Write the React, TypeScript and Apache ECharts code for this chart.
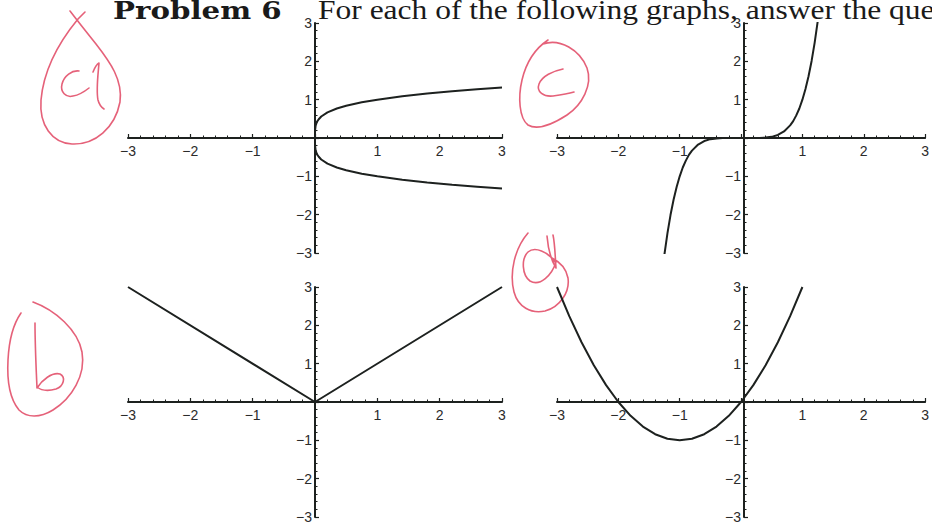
import React, { useEffect, useRef } from "react";
import * as echarts from "echarts";

// Shared axis extent for every panel
const AXIS_MIN = -3;
const AXIS_MAX = 3;
const TICK_STEP = 1;

// (a) y^4 = x : upper and lower branches
const rootX = [0, 0.0005, 0.002, 0.01, 0.03, 0.06, 0.1, 0.2, 0.35, 0.5, 0.75, 1, 1.4, 1.8, 2.2, 2.6, 3];
const rootUpper = [0, 0.15, 0.21, 0.32, 0.42, 0.49, 0.56, 0.67, 0.77, 0.84, 0.93, 1.0, 1.09, 1.16, 1.22, 1.27, 1.32];
const rootLower = [0, -0.15, -0.21, -0.32, -0.42, -0.49, -0.56, -0.67, -0.77, -0.84, -0.93, -1.0, -1.09, -1.16, -1.22, -1.27, -1.32];

// (b) y = |x|
const absX = [-3, 0, 3];
const absY = [3, 0, 3];

// (c) y = x^5
const quintX = [-1.25, -1.2, -1.15, -1.1, -1.05, -1, -0.95, -0.9, -0.85, -0.8, -0.7, -0.6, -0.5, -0.4, -0.3, -0.15, 0,
  0.15, 0.3, 0.4, 0.5, 0.6, 0.7, 0.8, 0.85, 0.9, 0.95, 1, 1.05, 1.1, 1.15, 1.2, 1.25];
const quintY = [-3.05, -2.49, -2.01, -1.61, -1.28, -1, -0.77, -0.59, -0.44, -0.33, -0.17, -0.08, -0.03, -0.01, -0.002, 0, 0,
  0, 0.002, 0.01, 0.03, 0.08, 0.17, 0.33, 0.44, 0.59, 0.77, 1, 1.28, 1.61, 2.01, 2.49, 3.05];

// (d) y = x^2 + 2x
const paraX = [-3, -2.8, -2.6, -2.4, -2.2, -2, -1.8, -1.6, -1.4, -1.2, -1, -0.8, -0.6, -0.4, -0.2, 0, 0.2, 0.4, 0.6, 0.8, 1];
const paraY = [3, 2.24, 1.56, 0.96, 0.44, 0, -0.36, -0.64, -0.84, -0.96, -1, -0.96, -0.84, -0.64, -0.36, 0, 0.44, 0.96, 1.56, 2.24, 3];

const INK = "#1d211f";
const LABEL_INK = "#2b2b2b";
const PEN = "#e2506a";
const LABEL_FONT = "Liberation Sans";
const LABEL_SIZE = 14;

// Panel frame size (px); the axes cross at the centre of each frame
const GRID_W = 374;
const GRID_H = 230;

// Handwritten panel labels (ink strokes)
const PEN_STROKES: Record<string, string> = {
  penA:
    "M 85 12 L 78 19 C 64 36 44 66 41 100 C 39 125 52 143 72 144 C 95 145 115 128 120 102 C 123 80 110 62 96 44 C 88 34 80 24 70 11 " +
    "M 79 71 C 72 70 64 76 62 84 C 60 92 66 98 73 96 C 79 95 84 92 89 88 " +
    "M 93 72 C 95 67 97 64 99 63 C 98 75 96 90 98 100 C 99 104 101 107 104 109",
  penB:
    "M 33 302 C 55 310 78 330 82 352 C 86 375 72 398 53 410 C 40 418 27 418 19 410 C 9 398 7 378 8 360 C 9 340 14 323 21 313 " +
    "M 35 323 C 35 345 36 365 37 388 C 42 380 52 372 60 374 C 66 377 64 386 56 389 C 49 391 42 391 37 387",
  penC:
    "M 543 44 C 560 38 580 50 587 68 C 593 85 582 105 567 115 C 553 124 538 131 528 125 C 519 118 518 97 522 80 C 526 63 533 50 548 40 " +
    "M 563 69 C 553 71 542 76 539 84 C 536 92 544 97 553 96 C 560 95 567 94 574 92",
  penD:
    "M 528 233 C 515 248 509 272 514 292 C 518 307 531 314 545 311 C 560 307 570 292 568 278 C 566 267 558 261 552 258 " +
    "M 555 262 C 548 252 535 246 528 252 C 521 259 522 275 530 281 C 540 287 552 275 556 262 " +
    "M 547 236 C 548 248 551 260 556 268 C 555 255 555 244 553 235",
};

const zip = (xs: number[], ys: number[]) => xs.map((x, i) => [x, ys[i]]);

// Tick text uses a rich-text token so its size is set explicitly
const tickLabel = (v: number) =>
  v === 0 ? "" : "{t|" + (v < 0 ? "\u2212" + Math.abs(v) : String(v)) + "}";

const labelStyle = {
  formatter: tickLabel,
  fontFamily: LABEL_FONT,
  fontSize: LABEL_SIZE,
  color: LABEL_INK,
  showMinLabel: true,
  showMaxLabel: true,
  rich: {
    t: { fontFamily: LABEL_FONT, fontSize: LABEL_SIZE, color: LABEL_INK, lineHeight: LABEL_SIZE },
  },
};

const axisCommon = {
  type: "value",
  min: AXIS_MIN,
  max: AXIS_MAX,
  interval: TICK_STEP,
  axisLine: { show: true, onZero: false, lineStyle: { color: INK, width: 2 } },
  axisTick: { show: true, inside: true, length: 4, lineStyle: { color: INK, width: 1.2 } },
  minorTick: { show: true, splitNumber: 5, length: 2.5, lineStyle: { color: INK, width: 1 } },
  splitLine: { show: false },
};

// The x axis is lifted from the bottom edge to the frame's middle (y = 0)
const makeXAxis = (i: number) => ({
  ...axisCommon,
  gridIndex: i,
  position: "bottom",
  offset: -GRID_H / 2,
  axisLabel: { ...labelStyle, margin: 6 },
});

// The y axis is shifted from the left edge to the frame's middle (x = 0)
const makeYAxis = (i: number) => ({
  ...axisCommon,
  gridIndex: i,
  position: "left",
  offset: -GRID_W / 2,
  axisLabel: { ...labelStyle, margin: 3 },
});

const curve = (i: number, data: number[][]) => ({
  type: "line",
  xAxisIndex: i,
  yAxisIndex: i,
  data,
  showSymbol: false,
  symbol: "none",
  smooth: false,
  clip: true,
  lineStyle: { color: INK, width: 2 },
  silent: true,
});

export default function App() {
  const ref = useRef<HTMLDivElement>(null);

  useEffect(() => {
    if (!ref.current) return;
    Object.keys(PEN_STROKES).forEach((name) => {
      echarts.graphic.registerShape(name, echarts.graphic.extendPath(PEN_STROKES[name], {}));
    });
    const chart = echarts.init(ref.current, undefined, { renderer: "svg" });

    const penStyle = {
      fill: "none",
      stroke: PEN,
      lineWidth: 1.6,
      lineCap: "round",
      lineJoin: "round",
      opacity: 0.9,
    };

    chart.setOption({
      animation: false,
      backgroundColor: "#ffffff",
      textStyle: { fontFamily: LABEL_FONT, fontSize: LABEL_SIZE },
      grid: [
        { left: 128, top: 23, width: GRID_W, height: GRID_H },
        { left: 128, top: 287, width: GRID_W, height: GRID_H },
        { left: 557, top: 23, width: GRID_W, height: GRID_H },
        { left: 557, top: 287, width: GRID_W, height: GRID_H },
      ],
      xAxis: [0, 1, 2, 3].map(makeXAxis),
      yAxis: [0, 1, 2, 3].map(makeYAxis),
      series: [
        curve(0, zip(rootX, rootUpper)),
        curve(0, zip(rootX, rootLower)),
        curve(1, zip(absX, absY)),
        curve(2, zip(quintX, quintY)),
        curve(3, zip(paraX, paraY)),
      ],
      graphic: [
        {
          type: "text",
          x: 113,
          y: 10,
          scaleX: 1.22,
          silent: true,
          style: {
            text: "Problem 6",
            font: 'bold 24px "DejaVu Serif"',
            fill: "#1a1a1a",
            verticalAlign: "middle",
            align: "left",
          },
        },
        {
          type: "text",
          x: 318,
          y: 10,
          scaleX: 1.167,
          silent: true,
          style: {
            text: "For each of the following graphs, answer the que",
            font: '27px "Liberation Serif"',
            fill: "#1a1a1a",
            verticalAlign: "middle",
            align: "left",
          },
        },
        ...Object.keys(PEN_STROKES).map((name) => ({
          type: name,
          x: 0,
          y: 0,
          silent: true,
          style: penStyle,
        })),
      ],
    });

    return () => chart.dispose();
  }, []);

  return (
    <div
      ref={ref}
      style={{ position: "fixed", left: 0, top: 0, width: 932, height: 529, background: "#fff" }}
    />
  );
}
